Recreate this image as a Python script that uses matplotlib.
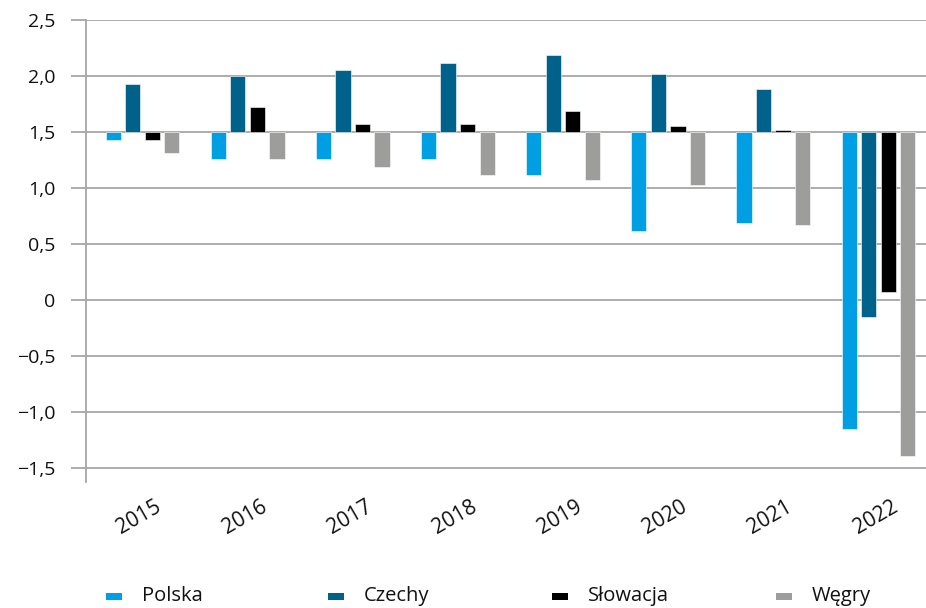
import matplotlib
matplotlib.use("Agg")
import matplotlib.pyplot as plt
import numpy as np

# Annual values per country (bars hang from the 1.5 reference level)
years = ["2015", "2016", "2017", "2018", "2019", "2020", "2021", "2022"]
polska = [1.43, 1.26, 1.26, 1.26, 1.12, 0.62, 0.69, -1.15]
czechy = [1.93, 2.00, 2.05, 2.12, 2.19, 2.02, 1.88, -0.15]
slowacja = [1.43, 1.72, 1.57, 1.57, 1.69, 1.55, 1.52, 0.07]
wegry = [1.31, 1.26, 1.19, 1.12, 1.07, 1.03, 0.67, -1.39]
series_names = ["Polska", "Czechy", "Słowacja", "Węgry"]
y_ticks = [-1.5, -1.0, -0.5, 0, 0.5, 1.0, 1.5, 2.0, 2.5]
y_tick_labels = ["\u22121,5", "\u22121,0", "\u22120,5", "0", "0,5", "1,0", "1,5", "2,0", "2,5"]

base = 1.5
colors = ["#009FE3", "#00618A", "#000000", "#9D9D9C"]
grid_color = "#A6A6A6"
text_color = "#111111"

plt.rcParams["font.family"] = ["Open Sans", "DejaVu Sans"]

W, H = 926, 608
fig = plt.figure(figsize=(W / 100, H / 100), dpi=100)
ax = fig.add_axes([86 / W, 1 - 482 / H, (926 - 86) / W, (482 - 20) / H])

x = np.arange(len(years))
step = 0.186
width = 0.145
for k, (vals, name, c) in enumerate(zip([polska, czechy, slowacja, wegry], series_names, colors)):
    offs = (k - 1.5) * step
    heights = np.array(vals) - base
    ax.bar(x + offs, heights, width, bottom=base, color=c, label=name,
           edgecolor="white", linewidth=0.4, zorder=3)

ax.set_xlim(-0.537, 7.452)
ax.set_ylim(-1.625, 2.5)
ax.set_yticks(y_ticks)
ax.set_yticklabels(y_tick_labels)
ax.yaxis.grid(True, color=grid_color, linewidth=1.3, zorder=0)
ax.tick_params(axis="y", length=11, width=1.3, color=grid_color, pad=11,
               labelsize=14, labelcolor=text_color)
ax.set_xticks([])

for s in ["top", "right", "bottom"]:
    ax.spines[s].set_visible(False)
ax.spines["left"].set_color(grid_color)
ax.spines["left"].set_linewidth(1.3)

# Rotated year labels under each group
trans = matplotlib.transforms.blended_transform_factory(ax.transData, fig.transFigure)
for i, yr in enumerate(years):
    ax.text(i - 0.03, 1 - 517 / H, yr, transform=trans, rotation=30,
            ha="center", va="center", fontsize=15, color=text_color)

# Legend row along the bottom edge
leg_x = [106, 328, 552, 776]
for (hx, c, name) in zip(leg_x, colors, series_names):
    fig.patches.append(matplotlib.patches.Rectangle(
        (hx / W, 1 - 600 / H), 16 / W, 7.5 / H, transform=fig.transFigure,
        facecolor=c, edgecolor="none"))
    fig.text((hx + 36) / W, 1 - 596 / H, name, ha="left", va="center",
             fontsize=14.5, color=text_color)

fig.savefig("out.png", dpi=100)
